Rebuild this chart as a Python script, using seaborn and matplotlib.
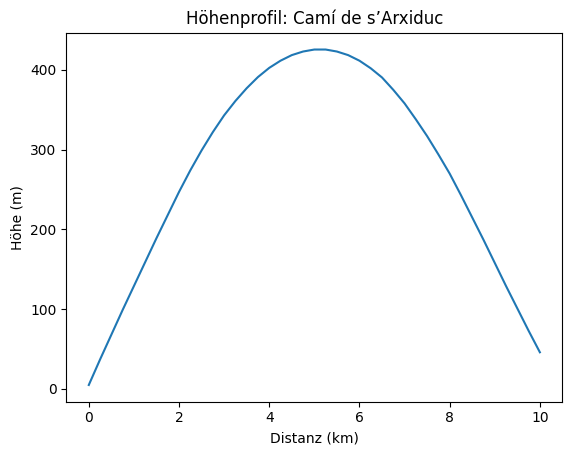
import pandas as pd
import seaborn as sns
import matplotlib
matplotlib.use("Agg")
import matplotlib.pyplot as plt

# elevation profile, every quarter km
distanz_km = [0, 0.25, 0.5, 0.75, 1, 1.25, 1.5, 1.75, 2, 2.25, 2.5,
              2.75, 3, 3.25, 3.5, 3.75, 4, 4.25, 4.5, 4.75, 5,
              5.25, 5.5, 5.75, 6, 6.25, 6.5, 6.75, 7, 7.25, 7.5,
              7.75, 8, 8.25, 8.5, 8.75, 9, 9.25, 9.5, 9.75, 10]
hoehe_m = [5, 37, 68, 99, 129, 159, 189, 218, 247, 274, 299,
           322, 343, 361, 377, 391, 402.5, 411.5, 418.5, 423, 425.5,
           425.5, 423, 418.5, 411.5, 402, 390.5, 375, 358, 338, 317,
           294, 270, 243, 215, 187, 158, 129, 101, 73, 46]


def main():
    df = pd.DataFrame({"distanz": distanz_km, "hoehe": hoehe_m})

    fig, ax = plt.subplots(figsize=(5.71, 4.55), dpi=100)
    fig.subplots_adjust(left=0.116, right=0.985, top=0.928, bottom=0.117)

    sns.lineplot(data=df, x="distanz", y="hoehe", ax=ax)
    ax.set_title("Höhenprofil: Camí de s’Arxiduc")
    ax.set_xlabel("Distanz (km)")
    ax.set_ylabel("Höhe (m)")

    fig.savefig("out.png", dpi=100)


if __name__ == "__main__":
    main()
